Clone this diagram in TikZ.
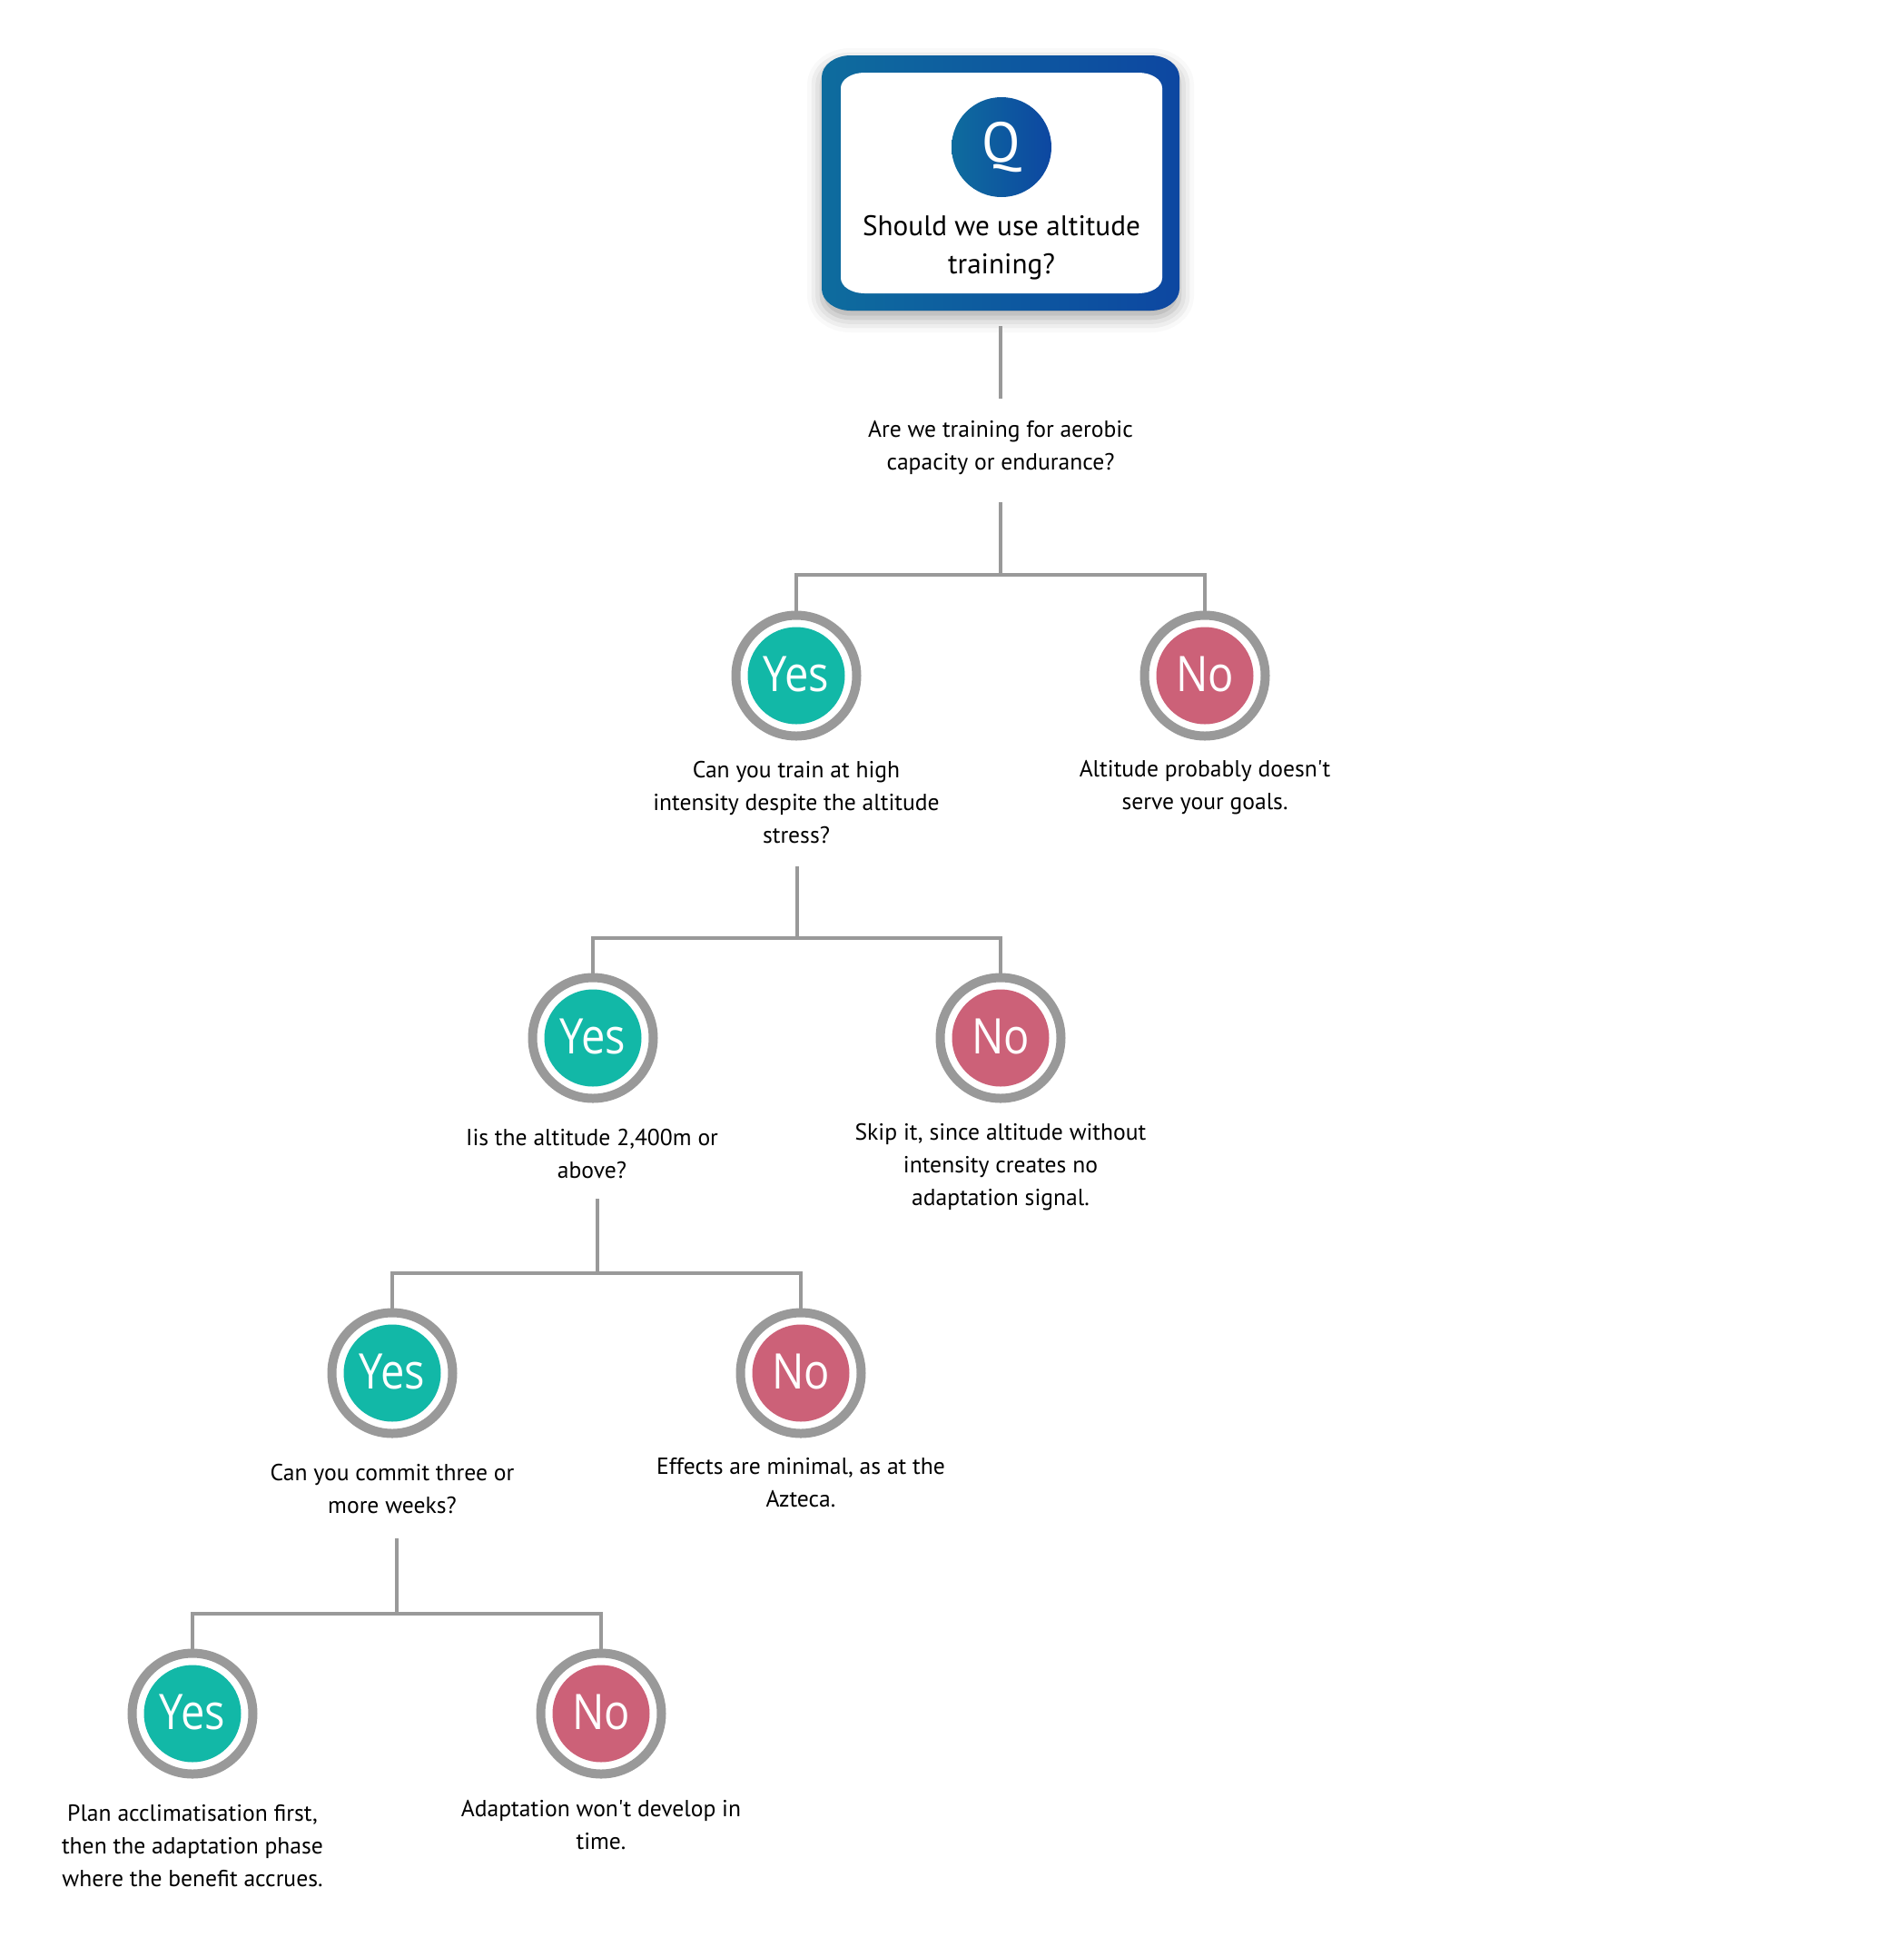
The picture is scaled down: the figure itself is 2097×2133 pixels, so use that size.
\documentclass[tikz,border=0pt]{standalone}
\usepackage{fontspec}
\setmainfont{PT Sans}[Ligatures=TeXOff]
\newfontfamily\ansfamily[FakeStretch=0.87]{Open Sans}
\usetikzlibrary{shadows.blur,calc}

\definecolor{linegray}{HTML}{999999}
\definecolor{yesteal}{HTML}{12B8A7}
\definecolor{norose}{HTML}{CC6178}
\definecolor{boxL}{HTML}{0E6C9E}
\definecolor{boxR}{HTML}{0D47A1}

\newcommand\bodyfont{\fontsize{12.8}{18}\selectfont}
\newcommand\titlefont{\fontsize{15.6}{21}\selectfont}
\newcommand\qfont{\fontsize{31}{31}\selectfont}
\newcommand\ansfont{\ansfamily\fontsize{27}{27}\selectfont}

\tikzset{
  conn/.style={draw=linegray, line width=2pt},
  answer/.style={circle, draw=linegray, line width=5pt, fill=white,
    minimum size=66.5pt, inner sep=0pt, font=\ansfont, text=white},
  yesans/.style={answer, path picture={\fill[yesteal]
    (path picture bounding box.center) circle (26.75pt);}},
  noans/.style={answer, path picture={\fill[norose]
    (path picture bounding box.center) circle (26.75pt);}},
  lbl/.style={align=center, font=\bodyfont, text=black, inner sep=0pt},
}

\begin{document}
\begin{tikzpicture}[x=0.5pt, y=-0.5pt]
\useasboundingbox (0,0) rectangle (2097,2133);

% question card: gradient frame with elliptical corners and a white face
\shade[blur shadow={shadow xshift=0pt, shadow yshift=-4pt, shadow blur radius=8pt, shadow opacity=35},
  left color=boxL, right color=boxR]
  (937,61) -- (1267,61) arc[start angle=90, end angle=0, x radius=16pt, y radius=12pt]
  -- (1299,318) arc[start angle=0, end angle=-90, x radius=16pt, y radius=12pt]
  -- (937,342) arc[start angle=-90, end angle=-180, x radius=16pt, y radius=12pt]
  -- (905,85) arc[start angle=180, end angle=90, x radius=16pt, y radius=12pt] -- cycle;
\fill[white]
  (952,80) -- (1254,80) arc[start angle=90, end angle=0, x radius=13pt, y radius=8.5pt]
  -- (1280,306) arc[start angle=0, end angle=-90, x radius=13pt, y radius=8.5pt]
  -- (952,323) arc[start angle=-90, end angle=-180, x radius=13pt, y radius=8.5pt]
  -- (926,97) arc[start angle=180, end angle=90, x radius=13pt, y radius=8.5pt] -- cycle;
\node[minimum width=197pt, minimum height=140.5pt, inner sep=0pt] (qbox) at (1102,201.5) {};
\node[circle, minimum size=55pt, inner sep=0pt, left color=boxL, right color=boxR,
  text=white, font=\qfont] (qmark) at (1103,162) {Q};
\node[align=center, font=\titlefont, inner sep=0pt] (qtext) at (1103,273) {Should we use altitude\\training?};

% question texts
\node[lbl] (l0) at (1102,493) {Are we training for aerobic\\capacity or endurance?};

% level 1
\node[yesans] (y1) at (877,744) {\raisebox{1.5pt}{Yes}};
\node[noans]  (n1) at (1327,744) {\raisebox{1.5pt}{No}};
\node[lbl] (ty1) at (877,884) {Can you train at high\\intensity despite the altitude\\stress?};
\node[lbl] (tn1) at (1327,867) {Altitude probably doesn't\\serve your goals.};

% level 2
\node[yesans] (y2) at (653,1143) {\raisebox{1.5pt}{Yes}};
\node[noans]  (n2) at (1102,1143) {\raisebox{1.5pt}{No}};
\node[lbl] (ty2) at (652,1271) {Iis the altitude 2,400m or\\above?};
\node[lbl] (tn2) at (1102,1285) {Skip it, since altitude without\\intensity creates no\\adaptation signal.};

% level 3
\node[yesans] (y3) at (432,1512) {\raisebox{1.5pt}{Yes}};
\node[noans]  (n3) at (882,1512) {\raisebox{1.5pt}{No}};
\node[lbl] (ty3) at (432,1640) {Can you commit three or\\more weeks?};
\node[lbl] (tn3) at (882,1633) {Effects are minimal, as at the\\Azteca.};

% level 4
\node[yesans] (y4) at (212,1887) {\raisebox{1.5pt}{Yes}};
\node[noans]  (n4) at (662,1887) {\raisebox{1.5pt}{No}};
\node[lbl] (ty4) at (212,2033) {Plan acclimatisation first,\\then the adaptation phase\\where the benefit accrues.};
\node[lbl] (tn4) at (662,2010) {Adaptation won't develop in\\time.};

% branch points
\coordinate (j1) at (1102,633);
\coordinate (j2) at (878,1033);
\coordinate (j3) at (658,1402);
\coordinate (j4) at (437,1777);

% connectors: a stem below each question, then a bar to both answers
\draw[conn] ([yshift=-8.5pt]qbox.south) -- ($(l0.center -| qbox.south)+(0,27pt)$);
\draw[conn] ($(l0.center -| j1)+(0,-30pt)$) -- (j1);
\draw[conn] (y1.north) |- (j1) -| (n1.north);
\draw[conn] ($(ty1.center -| j2)+(0,-35pt)$) -- (j2);
\draw[conn] (y2.north) |- (j2) -| (n2.north);
\draw[conn] ($(ty2.center -| j3)+(0,-24.5pt)$) -- (j3);
\draw[conn] (y3.north) |- (j3) -| (n3.north);
\draw[conn] ($(ty3.center -| j4)+(0,-27pt)$) -- (j4);
\draw[conn] (y4.north) |- (j4) -| (n4.north);
\end{tikzpicture}
\end{document}
